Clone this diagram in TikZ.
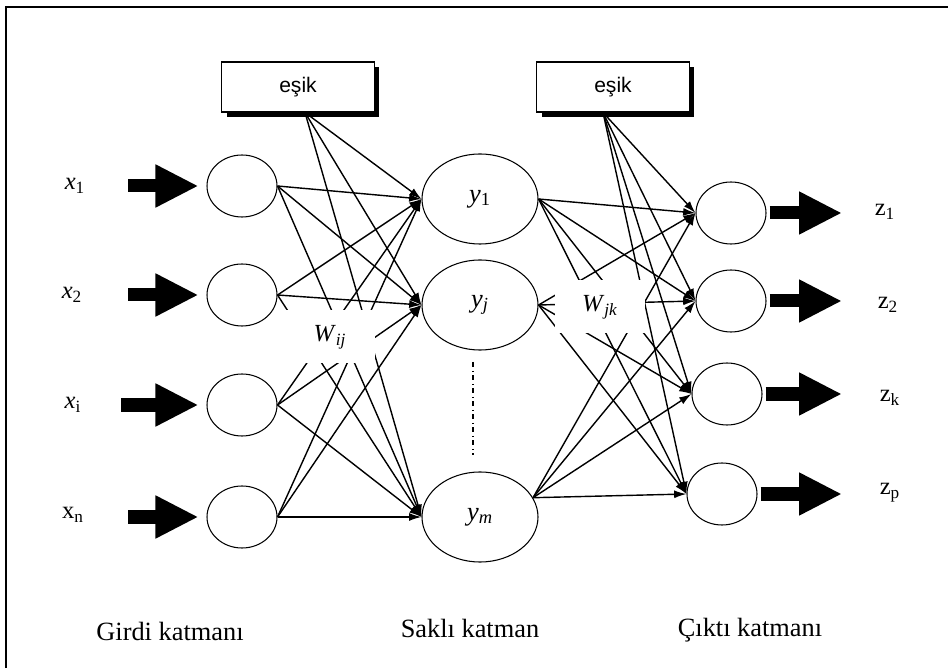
\documentclass[tikz,border=0pt]{standalone}
\usepackage{fontspec}
\setmainfont{Liberation Serif}
\newfontfamily\boxfont{Liberation Sans}
\usepackage{tikz}
\usetikzlibrary{positioning}
\usetikzlibrary{arrows, arrows.meta}
\usetikzlibrary{shapes.geometric, shadows}

\tikzset{
  neuron/.style={draw, line width=0.6pt, ellipse, inner sep=0pt,
    minimum width=1.4cm, minimum height=1.24cm},
  hidden/.style={draw, line width=0.6pt, ellipse, inner sep=0pt,
    minimum width=2.32cm, minimum height=1.8cm, font=\fontsize{15}{18}\selectfont},
  esikbox/.style={draw, line width=0.6pt, fill=white, minimum width=3.05cm,
    minimum height=1cm, font=\boxfont\fontsize{12}{14}\selectfont,
    drop shadow={shadow xshift=0.1cm, shadow yshift=-0.1cm, fill=black, opacity=1}},
  link/.style={line width=0.8pt, -{Latex[length=7pt, width=4.5pt]}},
  bigarrow/.style={line width=7.4pt, -{Triangle[length=0.86cm, width=0.8cm]}},
  weight/.style={fill=white, minimum width=1.8cm, minimum height=1.06cm,
    font=\fontsize{14}{17}\selectfont},
  layername/.style={font=\fontsize{15}{18}\selectfont},
  varname/.style={font=\fontsize{14}{17}\selectfont}
}

\begin{document}
\begin{tikzpicture}
  \useasboundingbox (0,0) rectangle (18.96,13.36);
  \draw[line width=1.7pt] (0.12,0) -- (0.12,13.22) -- (18.96,13.22);

  % girdi katmani
  \node[neuron] (i1) at (4.84,9.64) {};
  \node[neuron] (i2) at (4.84,7.46) {};
  \node[neuron] (i3) at (4.84,5.26) {};
  \node[neuron] (i4) at (4.84,3.02) {};

  % sakli katman
  \node[hidden] (h1) at (9.6,9.38) {\textit{y}\textsubscript{1}};
  \node[hidden] (h2) at (9.6,7.26) {\textit{y}\textsubscript{\textit{j}}};
  \node[hidden] (h3) at (9.6,3.02) {\textit{y}\textsubscript{\textit{m}}};
  \draw[dash dot, line width=0.8pt] (9.46,6.12) -- (9.46,4.26);

  % cikti katmani
  \node[neuron] (o1) at (14.62,9.10) {};
  \node[neuron] (o2) at (14.62,7.34) {};
  \node[neuron] (o3) at (14.54,5.48) {};
  \node[neuron] (o4) at (14.44,3.48) {};

  % esik kutulari
  \node[esikbox] (b1) at (5.96,11.62) {eşik};
  \node[esikbox] (b2) at (12.26,11.62) {eşik};
  \coordinate (b1s) at ([xshift=0.14cm]b1.south);
  \coordinate (b2s) at ([xshift=-0.2cm]b2.south);

  \draw[link] (i1.east) -- (h1.west);
  \draw[link] (i1.east) -- (h2.west);
  \draw[link] (i1.east) -- (h3.west);
  \draw[link] (i2.east) -- (h1.west);
  \draw[link] (i2.east) -- (h2.west);
  \draw[link] (i2.east) -- (h3.west);
  \draw[link] (i3.east) -- (h1.west);
  \draw[link] (i3.east) -- (h2.west);
  \draw[link] (i3.east) -- (h3.west);
  \draw[link] (i4.east) -- (h1.west);
  \draw[link] (i4.east) -- (h2.west);
  \draw[link] (i4.east) -- (h3.west);
  \draw[link] (b1s) -- (h1.west);
  \draw[link] (b1s) -- (h2.west);
  \draw[link] (b1s) -- (h3.west);

  \draw[link] (h1.east) -- (o1.west);
  \draw[link] (h1.east) -- (o2.west);
  \draw[link] (h1.east) -- (o3.west);
  \draw[link] (h1.east) -- (o4.west);
  \draw[link] (h2.east) -- (o1.west);
  \draw[link] (h2.east) -- (o2.west);
  \draw[link] (h2.east) -- (o3.west);
  \draw[link] (h2.east) -- (o4.west);
  \draw[link] (h3.20) -- (o1.west);
  \draw[link] (h3.20) -- (o2.west);
  \draw[link] (h3.20) -- (o3.west);
  \draw[link] (h3.20) -- (o4.west);
  \draw[link] (b2s) -- (o1.west);
  \draw[link] (b2s) -- (o2.west);
  \draw[link] (b2s) -- (o3.west);
  \draw[link] (b2s) -- (o4.west);

  \node[weight] (wij) at (6.6,6.62) {\textit{W}\textsubscript{\textit{ij}}};
  \node[weight] (wjk) at (12.0,7.22) {\textit{W}\textsubscript{\textit{jk}}};

  % girdiler
  \node[varname] (lx1) at (1.5,9.64) {\textit{x}\textsubscript{1}};
  \node[varname] (lx2) at (1.44,7.46) {\textit{x}\textsubscript{2}};
  \node[varname] (lx3) at (1.46,5.26) {\textit{x}\textsubscript{i}};
  \node[varname] (lx4) at (1.46,3.06) {x\textsubscript{n}};
  \coordinate (xin1) at (2.56,9.64);
  \coordinate (xin2) at (2.56,7.46);
  \coordinate (xin3) at (2.42,5.26);
  \coordinate (xin4) at (2.56,3.02);
  \draw[bigarrow, shorten >=0.16cm] (xin1) -- (i1);
  \draw[bigarrow, shorten >=0.16cm] (xin2) -- (i2);
  \draw[bigarrow, shorten >=0.16cm] (xin3) -- (i3);
  \draw[bigarrow, shorten >=0.16cm] (xin4) -- (i4);

  % ciktilar
  \coordinate (zout1) at (16.84,9.10);
  \coordinate (zout2) at (16.84,7.34);
  \coordinate (zout3) at (16.84,5.48);
  \coordinate (zout4) at (16.84,3.48);
  \draw[bigarrow, shorten <=0.06cm] (o1) -- (zout1);
  \draw[bigarrow, shorten <=0.06cm] (o2) -- (zout2);
  \draw[bigarrow, shorten <=0.06cm] (o3) -- (zout3);
  \draw[bigarrow, shorten <=0.06cm] (o4) -- (zout4);
  \node[varname] (lz1) at (17.7,9.12) {z\textsubscript{1}};
  \node[varname] (lz2) at (17.76,7.26) {z\textsubscript{2}};
  \node[varname] (lz3) at (17.8,5.4) {z\textsubscript{k}};
  \node[varname] (lz4) at (17.8,3.5) {z\textsubscript{p}};

  \node[layername] (girdi) at (3.4,0.74) {Girdi katmanı};
  \node[layername] (sakli) at (9.4,0.8) {Saklı katman};
  \node[layername] (cikti) at (15.0,0.76) {Çıktı katmanı};
\end{tikzpicture}
\end{document}
